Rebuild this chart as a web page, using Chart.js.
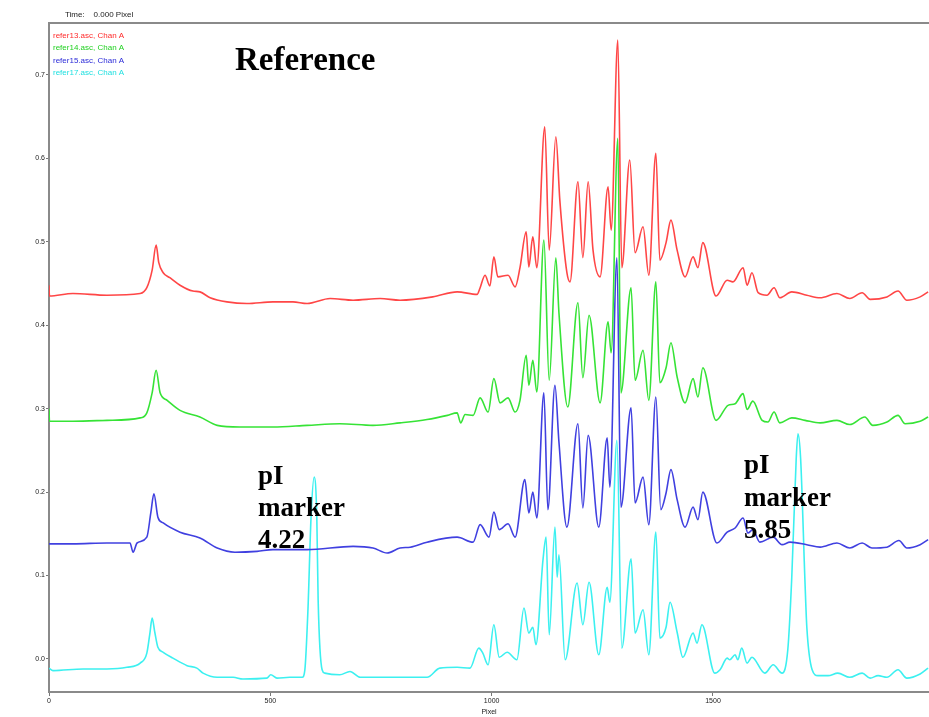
<!DOCTYPE html>
<html>
<head>
<meta charset="utf-8">
<script src="https://cdn.jsdelivr.net/npm/chart.js@4.4.1/dist/chart.umd.min.js"></script>
<style>
  body { margin: 0; background: #fff; }
  #wrap { width: 929px; height: 717px; position: relative; }
</style>
</head>
<body>
<div id="wrap"><canvas id="myChart"></canvas></div>
<script>
// series data: [pixel, absorbance]
const refer13 = [
  [0,0.448],[1,0.435],[54,0.438],[131,0.436],[206,0.438],[221,0.445],[233,0.466],[242,0.496],[248,0.475],
  [258,0.463],[273,0.457],[296,0.448],[325,0.441],[341,0.440],[364,0.433],[402,0.428],[447,0.426],
  [506,0.428],[551,0.428],[583,0.426],[635,0.432],[687,0.430],[748,0.432],[793,0.430],[867,0.434],
  [922,0.440],[967,0.437],[974,0.445],[985,0.460],[996,0.447],[1005,0.482],[1014,0.458],[1037,0.460],
  [1053,0.446],[1064,0.469],[1078,0.512],[1084,0.470],[1093,0.506],[1102,0.469],[1120,0.638],[1130,0.490],
  [1145,0.626],[1154,0.550],[1170,0.463],[1177,0.452],[1195,0.572],[1206,0.481],[1218,0.572],[1229,0.490],
  [1245,0.458],[1263,0.566],[1270,0.514],[1285,0.742],[1294,0.469],[1312,0.598],[1324,0.487],[1342,0.518],
  [1355,0.460],[1371,0.606],[1380,0.478],[1394,0.499],[1405,0.526],[1419,0.490],[1437,0.458],[1455,0.482],
  [1466,0.469],[1477,0.499],[1507,0.435],[1532,0.454],[1545,0.452],[1568,0.469],[1577,0.448],[1588,0.463],
  [1602,0.439],[1622,0.436],[1638,0.445],[1651,0.433],[1678,0.440],[1712,0.436],[1742,0.433],[1780,0.438],
  [1809,0.432],[1837,0.439],[1855,0.431],[1893,0.434],[1918,0.441],[1938,0.430],[1968,0.434],[1986,0.440]
];
const refer14 = [
  [0,0.300],[1,0.285],[54,0.285],[131,0.286],[206,0.289],[221,0.295],[233,0.319],[242,0.346],[251,0.319],
  [267,0.310],[296,0.298],[341,0.290],[380,0.280],[431,0.278],[506,0.278],[583,0.280],[657,0.282],
  [732,0.280],[793,0.283],[854,0.287],[900,0.292],[922,0.295],[930,0.283],[940,0.293],[958,0.292],
  [974,0.313],[992,0.296],[1005,0.336],[1019,0.307],[1037,0.313],[1053,0.296],[1064,0.310],[1078,0.364],
  [1084,0.328],[1093,0.358],[1102,0.320],[1118,0.502],[1130,0.334],[1145,0.481],[1152,0.415],[1172,0.302],
  [1195,0.427],[1206,0.337],[1220,0.412],[1245,0.307],[1263,0.404],[1270,0.367],[1285,0.624],[1292,0.319],
  [1315,0.445],[1324,0.334],[1342,0.370],[1355,0.310],[1371,0.452],[1380,0.331],[1394,0.349],[1405,0.379],
  [1419,0.338],[1437,0.307],[1455,0.336],[1466,0.314],[1477,0.349],[1507,0.286],[1534,0.304],[1550,0.306],
  [1568,0.318],[1577,0.299],[1590,0.309],[1611,0.286],[1624,0.284],[1638,0.296],[1651,0.283],[1678,0.289],
  [1708,0.286],[1742,0.283],[1780,0.286],[1809,0.281],[1843,0.290],[1861,0.280],[1893,0.284],[1918,0.292],
  [1934,0.282],[1968,0.285],[1986,0.290]
];
const refer15 = [
  [0,0.138],[54,0.138],[131,0.139],[183,0.139],[190,0.128],[199,0.139],[221,0.146],[230,0.175],[237,0.198],
  [246,0.170],[258,0.163],[296,0.152],[341,0.145],[380,0.133],[420,0.128],[470,0.129],[506,0.131],
  [583,0.131],[687,0.135],[732,0.133],[764,0.127],[793,0.133],[816,0.134],[854,0.140],[922,0.146],
  [958,0.140],[974,0.161],[994,0.146],[1005,0.176],[1017,0.155],[1037,0.162],[1053,0.146],[1075,0.215],
  [1084,0.175],[1093,0.200],[1102,0.169],[1118,0.319],[1127,0.179],[1143,0.328],[1152,0.260],[1170,0.158],
  [1195,0.282],[1206,0.181],[1218,0.268],[1242,0.158],[1261,0.265],[1267,0.206],[1283,0.481],[1292,0.182],
  [1315,0.301],[1324,0.187],[1342,0.218],[1355,0.161],[1371,0.314],[1382,0.179],[1394,0.199],[1405,0.227],
  [1419,0.191],[1437,0.158],[1455,0.182],[1466,0.167],[1477,0.200],[1509,0.139],[1532,0.152],[1550,0.157],
  [1568,0.169],[1579,0.151],[1590,0.155],[1606,0.140],[1636,0.146],[1656,0.137],[1674,0.140],[1712,0.137],
  [1742,0.134],[1780,0.139],[1809,0.133],[1837,0.139],[1859,0.133],[1893,0.134],[1920,0.142],[1938,0.133],
  [1968,0.137],[1986,0.143]
];
const refer17 = [
  [0,-0.011],[9,-0.014],[77,-0.012],[131,-0.012],[176,-0.010],[206,-0.005],[221,0.007],[228,0.031],
  [233,0.049],[239,0.032],[246,0.014],[258,0.008],[280,0.001],[312,-0.008],[334,-0.011],[348,-0.017],
  [380,-0.022],[416,-0.022],[438,-0.024],[492,-0.023],[501,-0.019],[515,-0.023],[544,-0.022],[572,-0.022],
  [578,-0.013],[585,0.059],[592,0.170],[599,0.218],[605,0.170],[608,0.071],[617,-0.013],[623,-0.017],
  [657,-0.019],[680,-0.015],[703,-0.022],[748,-0.022],[793,-0.022],[854,-0.022],[883,-0.011],[922,-0.010],
  [951,-0.011],[971,0.013],[980,0.007],[992,-0.007],[1005,0.041],[1017,0.002],[1035,0.008],[1057,-0.001],
  [1073,0.061],[1084,0.031],[1093,0.038],[1100,0.017],[1116,0.119],[1123,0.146],[1130,0.029],[1143,0.158],
  [1148,0.098],[1152,0.125],[1166,-0.001],[1193,0.091],[1206,0.041],[1220,0.092],[1242,0.005],[1261,0.086],
  [1267,0.068],[1283,0.262],[1294,0.013],[1315,0.120],[1324,0.031],[1342,0.059],[1355,0.005],[1371,0.152],
  [1380,0.025],[1394,0.038],[1403,0.068],[1419,0.032],[1432,0.002],[1455,0.031],[1464,0.019],[1475,0.041],
  [1504,-0.017],[1516,-0.013],[1532,0.001],[1538,-0.001],[1550,0.005],[1556,-0.001],[1565,0.013],[1577,-0.005],
  [1588,0.002],[1617,-0.017],[1636,-0.007],[1656,-0.017],[1669,0.011],[1678,0.098],[1688,0.240],[1692,0.270],
  [1698,0.240],[1708,0.090],[1712,0.038],[1724,-0.013],[1737,-0.020],[1760,-0.020],[1782,-0.017],[1809,-0.022],
  [1837,-0.017],[1855,-0.023],[1873,-0.020],[1893,-0.022],[1918,-0.013],[1938,-0.023],[1968,-0.018],[1986,-0.011]
];

const seriesNames = ['refer13.asc, Chan A', 'refer14.asc, Chan A', 'refer15.asc, Chan A', 'refer17.asc, Chan A'];
const seriesColors = ['#ff4646', '#36e336', '#4040e0', '#3cf0f0'];
const legendColors = ['#ff2a2a', '#1fd01f', '#2a2ad8', '#20e0e0'];
const xTicks = [0, 500, 1000, 1500];
const yTicks = [0.0, 0.1, 0.2, 0.3, 0.4, 0.5, 0.6, 0.7];

// text drawn on top of the plot
const markerLabels = [
  { lines: ['pI', 'marker', '4.22'], x: 258, y: [484, 516, 548] },
  { lines: ['pI', 'marker', '5.85'], x: 744, y: [473, 506, 538] }
];

const overlayText = {
  id: 'overlayText',
  afterDraw(chart) {
    const ctx = chart.ctx;
    ctx.save();
    // header
    ctx.font = '8px "Liberation Sans", Arial, sans-serif';
    ctx.fillStyle = '#222';
    ctx.textBaseline = 'middle';
    ctx.fillText('Time:    0.000 Pixel', 65, 15);
    // legend
    chart.data.datasets.forEach((ds, i) => {
      ctx.fillStyle = legendColors[i];
      ctx.fillText(ds.label, 53, 36 + i * 12.2);
    });
    // title
    ctx.textBaseline = 'alphabetic';
    ctx.fillStyle = '#000';
    ctx.font = 'bold 33px "Liberation Serif", "Times New Roman", serif';
    ctx.fillText('Reference', 235, 70);
    // pI markers
    ctx.font = 'bold 27px "Liberation Serif", "Times New Roman", serif';
    markerLabels.forEach(m => {
      m.lines.forEach((t, k) => ctx.fillText(t, m.x, m.y[k]));
    });
    ctx.restore();
  }
};

const myChart = document.getElementById('myChart');

let traceChart = new Chart(myChart, {
  type: 'line',
  data: {
    datasets: [refer13, refer14, refer15, refer17].map((s, i) => ({
      label: seriesNames[i],
      data: s.map(p => ({ x: p[0], y: p[1] })),
      borderColor: seriesColors[i],
      borderWidth: 1.6,
      pointRadius: 0,
      fill: false,
      cubicInterpolationMode: 'monotone',
      tension: 0.4
    }))
  },
  options: {
    responsive: true,
    maintainAspectRatio: false,
    animation: false,
    layout: { padding: { top: 23, right: 0, left: 0, bottom: 0 } },
    plugins: {
      legend: { display: false },
      tooltip: { enabled: false }
    },
    scales: {
      x: {
        type: 'linear',
        position: 'bottom',
        min: 0,
        max: 1988,
        afterFit: s => { s.height = 25; },
        afterBuildTicks: s => { s.ticks = xTicks.map(v => ({ value: v })); },
        ticks: {
          font: { size: 7, family: 'Liberation Sans' },
          color: '#222',
          padding: 1,
          maxRotation: 0,
          callback: v => String(v)
        },
        grid: { display: true, drawOnChartArea: false, tickLength: 4, color: '#777' },
        border: { display: true, color: '#8a8a8a', width: 2 },
        title: {
          display: true,
          text: 'Pixel',
          font: { size: 7, family: 'Liberation Sans' },
          color: '#222',
          padding: { top: 0, bottom: 1 }
        }
      },
      xTop: {
        type: 'linear',
        position: 'top',
        min: 0,
        max: 1988,
        afterFit: s => { s.height = 0; },
        ticks: { display: false },
        grid: { display: false },
        border: { display: true, color: '#8a8a8a', width: 2 }
      },
      y: {
        type: 'linear',
        min: -0.0396,
        max: 0.7623,
        afterFit: s => { s.width = 49; },
        afterBuildTicks: s => { s.ticks = yTicks.map(v => ({ value: v })); },
        ticks: {
          font: { size: 7, family: 'Liberation Sans' },
          color: '#222',
          padding: 1,
          callback: v => Number(v).toFixed(1)
        },
        grid: { display: true, drawOnChartArea: false, tickLength: 3, color: '#777' },
        border: { display: true, color: '#8a8a8a', width: 2 }
      }
    }
  },
  plugins: [overlayText]
});
</script>
</body>
</html>
